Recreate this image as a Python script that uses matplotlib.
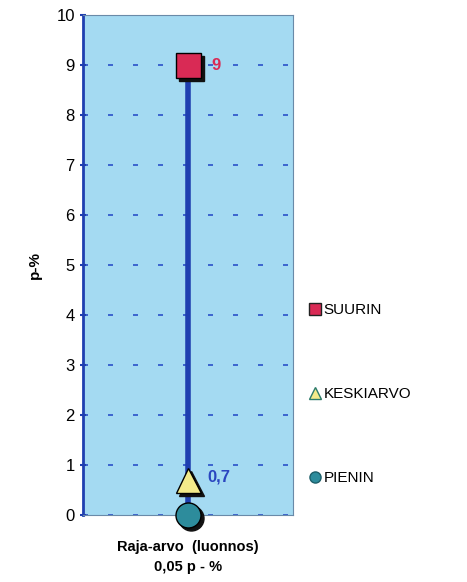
import matplotlib.pyplot as plt
import matplotlib.transforms as mtransforms
from matplotlib.lines import Line2D

plt.rcParams["font.family"] = ["Liberation Sans", "DejaVu Sans"]

category = ["Raja-arvo  (luonnos)\n0,05 p - %"]
suurin = [9.0]
keskiarvo = [0.7]
pienin = [0.0]
series_names = ["SUURIN", "KESKIARVO", "PIENIN"]
y_ticks = list(range(0, 11))

BG = "#a4daf2"
BLUE = "#1f3fb0"
RED = "#d92a55"
YELLOW = "#f2ea8a"
TEAL = "#2d8c9c"

fig = plt.figure(figsize=(4.67, 5.82), dpi=100)
ax = fig.add_axes([0.178, 0.115, 0.449, 0.859])
ax.set_facecolor(BG)

x = list(range(len(category)))
# drop shadow: same marker shifted down-right
shift = ax.transData + mtransforms.ScaledTranslation(3 / 100, -3 / 100, fig.dpi_scale_trans)

ax.vlines(x, pienin, suurin, color=BLUE, lw=4, zorder=3)
for vals, m, fc, z in [(pienin, "o", TEAL, 4), (keskiarvo, "^", YELLOW, 5), (suurin, "s", RED, 6)]:
    ax.plot(x, vals, m, ms=18, mfc="#111111", mec="#111111", zorder=z,
            transform=shift, clip_on=False)
    ax.plot(x, vals, m, ms=18, mfc=fc, mec="black", mew=1, zorder=z, clip_on=False)

for xi, v in zip(x, suurin):
    ax.annotate(f"{v:g}".replace(".", ","), (xi, v), xytext=(17, 0), textcoords="offset points",
                color=RED, fontsize=12, fontweight="bold", va="center")
for xi, v in zip(x, keskiarvo):
    ax.annotate(f"{v:g}".replace(".", ","), (xi, v), xytext=(14, 2), textcoords="offset points",
                color="#2a46c0", fontsize=12, fontweight="bold", va="center")

ax.set_xlim(-0.5, 0.5)
ax.set_ylim(0, 10)
ax.set_yticks(y_ticks)
ax.set_yticklabels([str(t) for t in y_ticks], fontsize=12)
ax.set_xticks(x)
ax.set_xticklabels(category, fontsize=10.5, fontweight="bold", linespacing=1.5)
ax.tick_params(axis="x", length=0, pad=18)
ax.tick_params(axis="y", color=BLUE, width=1.5, length=5, direction="inout")
ax.grid(axis="y", color="#2a50c8", ls=(0, (3, 12)), lw=1.2)
ax.set_axisbelow(True)
ax.set_ylabel("p-%", fontsize=11, fontweight="bold", labelpad=10)

for side in ["top", "right", "bottom"]:
    ax.spines[side].set_color("#6a8aa8")
    ax.spines[side].set_linewidth(0.8)
ax.spines["left"].set_color(BLUE)
ax.spines["left"].set_linewidth(2)

handles = [
    Line2D([], [], marker="s", ls="none", ms=8, mfc=RED, mec="#222222"),
    Line2D([], [], marker="^", ls="none", ms=8, mfc=YELLOW, mec="#2a7a6a"),
    Line2D([], [], marker="o", ls="none", ms=8, mfc=TEAL, mec="#1d5f6a"),
]
fig.legend(handles, series_names, loc="upper left", bbox_to_anchor=(0.645, 0.49),
           frameon=False, fontsize=11, handletextpad=0.05, handlelength=1.0,
           labelspacing=4.6, borderaxespad=0)

fig.savefig("out.png", dpi=100)
